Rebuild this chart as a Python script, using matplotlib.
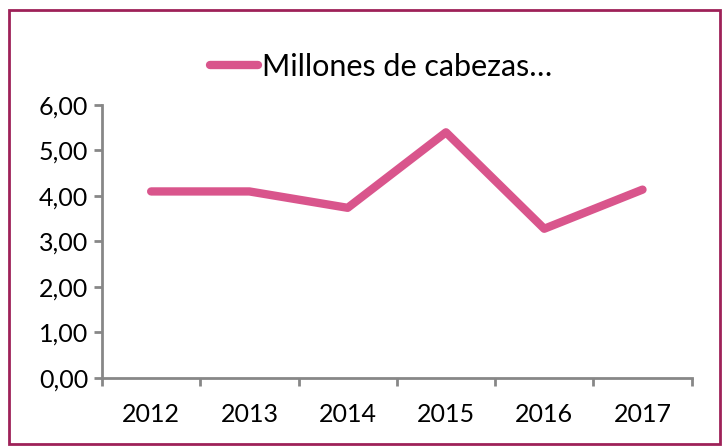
import matplotlib.pyplot as plt
from matplotlib.patches import Rectangle
from matplotlib.lines import Line2D
import numpy as np

plt.rcParams['font.family'] = ['Lato', 'DejaVu Sans']

# Data
years = ["2012", "2013", "2014", "2015", "2016", "2017"]
values = [4.10, 4.10, 3.74, 5.40, 3.28, 4.14]
series_name = "Millones de cabezas…"

line_color = "#D9558C"
axis_color = "#878787"
frame_color = "#9E2158"

fig = plt.figure(figsize=(7.25, 4.47), dpi=100)
ax = fig.add_axes([0.1407, 0.1544, 0.8133, 0.6107])

x = np.arange(len(years))
ax.plot(x, values, color=line_color, linewidth=6, solid_capstyle="round",
        solid_joinstyle="round")

ax.set_xlim(-0.5, len(years) - 0.5)
ax.set_ylim(0, 6)
ax.set_yticks(np.arange(0, 7, 1))
ax.set_yticklabels([f"{v:.2f}".replace(".", ",") for v in range(7)])

# category labels centred, tick marks on the boundaries
ax.set_xticks(np.arange(-0.5, len(years), 1))
ax.set_xticklabels([])
ax.set_xticks(x, minor=True)
ax.set_xticklabels(years, minor=True)
ax.tick_params(axis="x", which="minor", length=0, labelsize=18, pad=18)
ax.tick_params(axis="x", which="major", length=6, width=2, color=axis_color)
ax.tick_params(axis="y", length=6, width=2, color=axis_color, labelsize=18, pad=4)

for side in ["top", "right"]:
    ax.spines[side].set_visible(False)
for side in ["left", "bottom"]:
    ax.spines[side].set_color(axis_color)
    ax.spines[side].set_linewidth(2)

# legend at the top
handle = Line2D([0], [0], color=line_color, linewidth=6, solid_capstyle="round")
fig.legend([handle], [series_name], loc="center", bbox_to_anchor=(0.525, 0.85),
           frameon=False, fontsize=22, handlelength=1.6, handletextpad=0.1)

# outer frame
fig.patches.append(Rectangle((0.0125, 0.006), 0.98, 0.971, transform=fig.transFigure,
                             fill=False, edgecolor=frame_color, linewidth=2))

plt.savefig("out.png", dpi=100)
